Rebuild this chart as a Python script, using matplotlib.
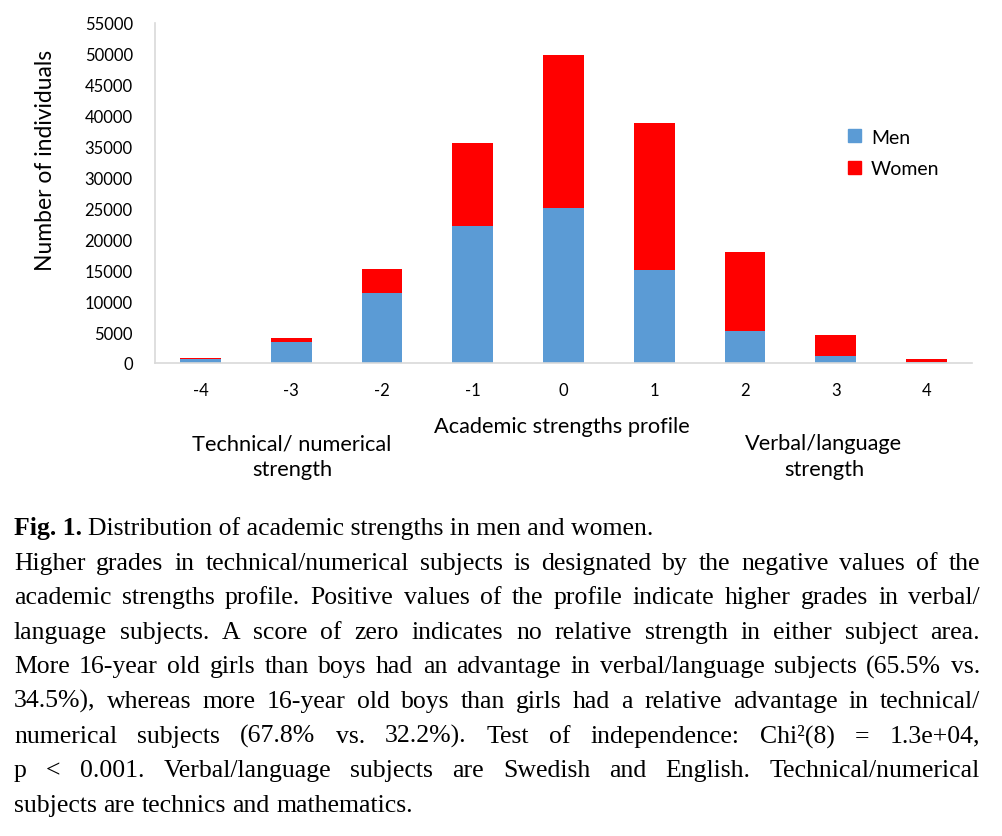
import matplotlib
matplotlib.use("Agg")
import matplotlib.pyplot as plt
from matplotlib.patches import Patch

# academic strengths profile categories and counts
profile = ["-4", "-3", "-2", "-1", "0", "1", "2", "3", "4"]
men = [600, 3400, 11300, 22100, 25000, 15000, 5200, 1100, 100]
women = [150, 600, 3900, 13500, 24800, 23800, 12700, 3400, 500]

caption_lines = [
    "Higher grades in technical/numerical subjects is designated by the negative values of the",
    "academic strengths profile. Positive values of the profile indicate higher grades in verbal/",
    "language subjects. A score of zero indicates no relative strength in either subject area.",
    "More 16-year old girls than boys had an advantage in verbal/language subjects (65.5% vs.",
    "34.5%), whereas more 16-year old boys than girls had a relative advantage in technical/",
    "numerical subjects (67.8% vs. 32.2%). Test of independence: Chi\u00b2(8) = 1.3e+04,",
    "p < 0.001. Verbal/language subjects are Swedish and English. Technical/numerical",
    "subjects are technics and mathematics.",
]

W, H = 1003, 837
plt.rcParams['font.family'] = ['Lato', 'DejaVu Sans']
fig = plt.figure(figsize=(W / 100, H / 100), dpi=100)
ax = fig.add_axes([155 / W, 1 - 364 / H, (972 - 155) / W, (364 - 24) / H])

x = range(len(profile))
ax.bar(x, men, width=0.45, color='#5B9BD5', label='Men')
ax.bar(x, women, width=0.45, bottom=men, color='#FF0000', label='Women')

ax.set_xlim(-0.5, len(profile) - 0.5)
ax.set_ylim(0, 55000)
ax.set_yticks(range(0, 55001, 5000))
ax.set_xticks(list(x))
ax.set_xticklabels(profile)
ax.tick_params(length=0, labelsize=12, colors='black', pad=14)
ax.tick_params(axis='y', pad=16)
for s in ['top', 'right']:
    ax.spines[s].set_visible(False)
for s in ['left', 'bottom']:
    ax.spines[s].set_color('#D9D9D9')
    ax.spines[s].set_linewidth(1.2)

ax.set_ylabel('Number of individuals', fontsize=16.5)
ax.yaxis.label.set_va('center')
ax.yaxis.set_label_coords(-0.1346, 0.6)

fig.text(562 / W, 1 - 427 / H, 'Academic strengths profile', fontsize=15.7,
         ha='center', va='center')
fig.text(292 / W, 1 - 457 / H, 'Technical/ numerical\nstrength', fontsize=15.7,
         ha='center', va='center', linespacing=1.35)
fig.text(824 / W, 1 - 457 / H, 'Verbal/language\nstrength', fontsize=15.7,
         ha='center', va='center', linespacing=1.35)

handles = [Patch(color='#5B9BD5', label='Men'), Patch(color='#FF0000', label='Women')]
fig.legend(handles=handles, loc='upper left', bbox_to_anchor=(831 / W, 1 - 112 / H),
           frameon=False, fontsize=14, handlelength=0.65, handleheight=0.65,
           handletextpad=0.5, labelspacing=0.75)

# caption, justified like the journal layout
fig.canvas.draw()
r = fig.canvas.get_renderer()
serif = dict(family='Liberation Serif', fontsize=18.5)


def width(s, **kw):
    t = fig.text(0, 0, s, **kw)
    w = t.get_window_extent(r).width
    t.remove()
    return w


left, right = 14, 980
base = 535
step = 34.6

fig.text(left / W, 1 - base / H, 'Fig. 1.', fontweight='bold', va='baseline', **serif)
hw = width('Fig. 1. ', fontweight='bold', **serif)
fig.text((left + hw) / W, 1 - base / H, 'Distribution of academic strengths in men and women.',
         va='baseline', **serif)

for i, line in enumerate(caption_lines):
    y = base + step * (i + 1)
    words = line.split(' ')
    ws = [width(w_, **serif) for w_ in words]
    if i == len(caption_lines) - 1:
        gap = width('a a', **serif) - 2 * width('a', **serif)
    else:
        gap = (right - left - sum(ws)) / (len(words) - 1)
    xp = left
    for w_, ww in zip(words, ws):
        fig.text(xp / W, 1 - y / H, w_, va='baseline', **serif)
        xp += ww + gap

fig.savefig('out.png', dpi=100)
